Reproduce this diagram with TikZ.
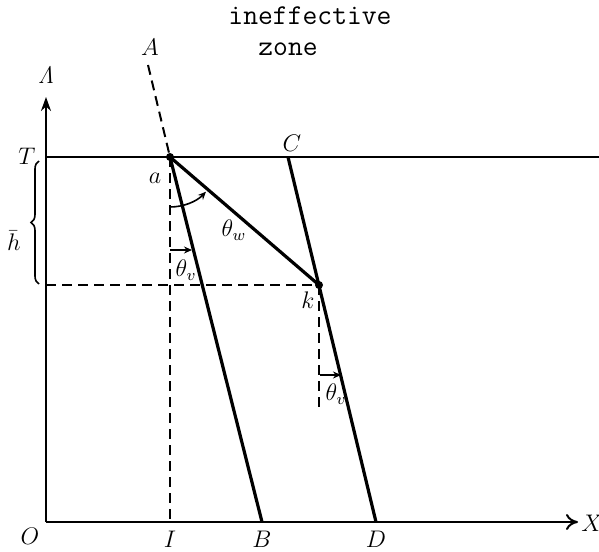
\documentclass[tikz,border=0pt]{standalone}
\usetikzlibrary{arrows.meta,decorations.pathreplacing}
\begin{document}
\begin{tikzpicture}[x=0.5pt,y=-0.5pt,
  thickline/.style={line width=1.6pt},
  axisline/.style={line width=1pt},
  dashline/.style={line width=1pt, dash pattern=on 5pt off 3pt},
  smallarrow/.style={line width=0.8pt, -{Stealth[length=4pt,width=3.5pt]}},
  lbl/.style={inner sep=0pt, font=\large},
  dot/.style={circle, fill, inner sep=0pt, minimum size=4pt}]
\useasboundingbox (0,0) rectangle (599,551);
% points
\coordinate (O) at (46,522);
\coordinate (Ytip) at (46,97);
\coordinate (Xtip) at (578,522);
\coordinate (Tl) at (46,157);
\coordinate (Tr) at (599,157);
\coordinate (a) at (170,157);
\coordinate (k) at (319,285);
\coordinate (C) at (288,157);
\coordinate (D) at (376,522);
\coordinate (B) at (262,522);
\coordinate (I) at (170,522);
\coordinate (Atop) at (148,65);
\coordinate (Hl) at (46,285);
\coordinate (kbot) at (319,410);
\coordinate (bt) at (39,161);
\coordinate (bb) at (39,284);
% axes
\draw[axisline,-{Stealth[length=7pt,width=5pt]}] (O) -- (Ytip);
\draw[axisline,-{To[length=6pt,width=8pt]}] (O) -- (Xtip);
\draw[axisline] (Tl) -- (Tr);
% dashed lines
\draw[dashline] (Atop) -- (a);
\draw[dashline] (a) -- (I);
\draw[dashline] (Hl) -- (k);
\draw[dashline] (k) -- (kbot);
% solid lines
\draw[thickline] (a) -- (B);
\draw[thickline] (a) -- (k);
\draw[thickline] (C) -- (D);
\node[dot] (adot) at (a) {};
\node[dot] (kdot) at (k) {};
% angle arrows
\draw[smallarrow] (a) ++(0,50) arc[start angle=90, end angle=44, radius=50];
\draw[smallarrow] (170,250) -- (192,250);
\draw[smallarrow] (320,375) -- (341,375);
% brace
\draw[line width=0.8pt, decorate, decoration={brace, amplitude=4pt, mirror}] (bt) -- (bb);
% labels
\node[lbl] (lLam) at (46,75) {$\mathit{\Lambda}$};
\node[lbl] (lX) at (592,523) {$X$};
\node[lbl] (lO) at (30,536) {$O$};
\node[lbl] (lI) at (170,539) {$I$};
\node[lbl] (lB) at (262,539) {$B$};
\node[lbl] (lD) at (376,539) {$D$};
\node[lbl] (lT) at (27,156) {$T$};
\node[lbl] (lh) at (14,241) {$\bar h$};
\node[lbl] (lA) at (150,47) {$A$};
\node[lbl] (lC) at (292,143) {$C$};
\node[lbl] (la) at (155,178) {$a$};
\node[lbl] (lk) at (308,300) {$k$};
\node[lbl] (lw) at (234,230) {$\theta_w$};
\node[lbl] (lv1) at (186,270) {$\theta_v$};
\node[lbl] (lv2) at (336,394) {$\theta_v$};
\node[inner sep=0pt, font=\ttfamily\Large] (lz1) at (310,16) {ineffective};
\node[inner sep=0pt, font=\ttfamily\Large] (lz2) at (288,49) {zone};
\end{tikzpicture}
\end{document}
